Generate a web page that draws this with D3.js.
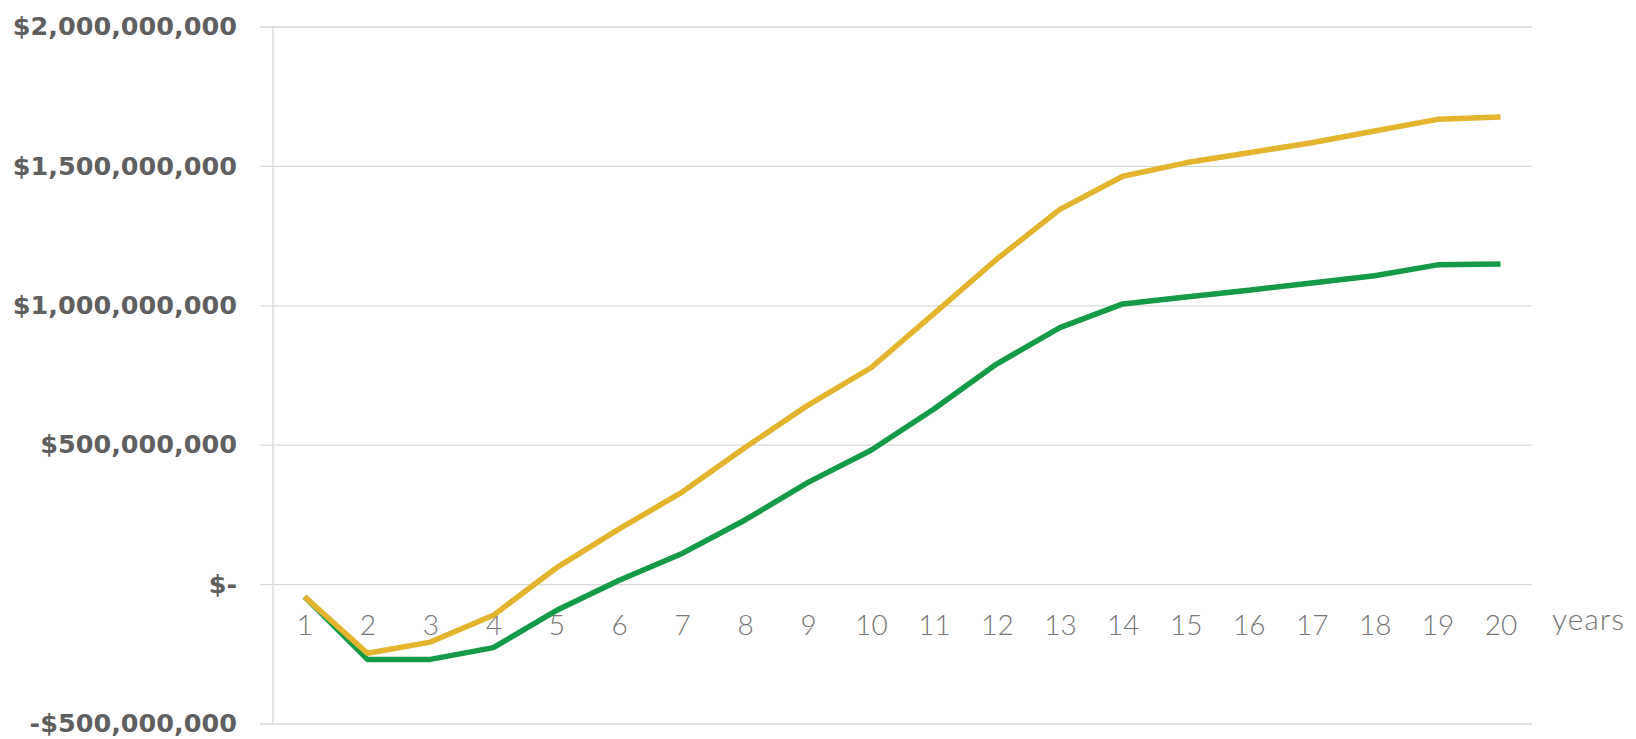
<!DOCTYPE html>
<html>
<head>
<meta charset="utf-8">
<script src="https://cdn.jsdelivr.net/npm/d3@7"></script>
<style>
  html, body { margin: 0; padding: 0; background: #ffffff; }
  svg { display: block; }
  .ylab text { font-family: "DejaVu Sans", sans-serif; font-weight: bold; font-size: 25.5px; fill: #5f5f5f; }
  .xlab text { font-family: "Lato", "Open Sans", sans-serif; font-weight: 300; font-size: 28px; fill: #767676; }
  .unit { font-family: "Lato", "Open Sans", sans-serif; font-weight: 300; font-size: 30px; letter-spacing: 1px; fill: #767676; }
</style>
</head>
<body>
<svg id="chart" width="1636" height="739"></svg>
<script>
// Years on the horizontal axis
const years = d3.range(1, 21);

// Cumulative value by year, in millions of dollars
const upperSeries = [-45, -248, -208, -112, 58, 198, 330, 490, 642, 776,
                     970, 1166, 1344, 1463, 1511, 1547, 1583, 1625, 1667, 1675];
const lowerSeries = [-45, -270, -270, -228, -95, 14, 110, 230, 365, 480,
                     628, 790, 920, 1005, 1030, 1054, 1080, 1106, 1145, 1148];

// Gridline / tick values on the vertical axis (dollars)
const yTicks = [-500000000, 0, 500000000, 1000000000, 1500000000, 2000000000];

const svg = d3.select("#chart");
const plotLeft = 273, plotRight = 1532, plotTop = 26.5, plotBottom = 723.5;

const x = d3.scalePoint().domain(years).range([plotLeft, plotRight]).padding(0.5);
const y = d3.scaleLinear().domain([-500000000, 2000000000]).range([plotBottom, plotTop]);

const money = v => v === 0 ? "$-" : (v < 0 ? "-" : "") + "$" + d3.format(",")(Math.abs(v));

// Horizontal gridlines, running a little past the vertical axis
svg.append("g")
  .attr("transform", `translate(${plotRight},0)`)
  .call(d3.axisLeft(y).tickValues(yTicks).tickSizeInner(plotRight - plotLeft + 13).tickSizeOuter(0).tickFormat(""))
  .call(g => g.select(".domain").remove())
  .call(g => g.selectAll(".tick line").attr("stroke", "#d9d9d9").attr("stroke-width", 1.3));

// Vertical axis line
svg.append("line")
  .attr("x1", plotLeft).attr("x2", plotLeft)
  .attr("y1", y(2000000000)).attr("y2", y(-500000000))
  .attr("stroke", "#d9d9d9").attr("stroke-width", 1.3);

// Dollar labels
svg.append("g")
  .attr("class", "ylab")
  .attr("transform", `translate(${plotLeft},0)`)
  .call(d3.axisLeft(y).tickValues(yTicks).tickSize(0).tickPadding(36).tickFormat(money))
  .call(g => g.select(".domain").remove())
  .call(g => g.selectAll("text").attr("font-family", null).attr("font-size", null).attr("fill", null));

// Year labels sit just under the zero line
svg.append("g")
  .attr("class", "xlab")
  .attr("transform", `translate(0,${y(0)})`)
  .call(d3.axisBottom(x).tickSize(0).tickPadding(31))
  .call(g => g.select(".domain").remove())
  .call(g => g.selectAll("text").attr("font-family", null).attr("font-size", null).attr("fill", null));

svg.append("text")
  .attr("class", "unit")
  .attr("x", 1552).attr("y", 630)
  .text("years");

const line = d3.line()
  .x((d, i) => x(years[i]))
  .y(d => y(d * 1e6));

svg.append("path")
  .datum(lowerSeries)
  .attr("d", line)
  .attr("fill", "none")
  .attr("stroke", "#159a49")
  .attr("stroke-width", 5.5)
  .attr("stroke-linejoin", "round");

svg.append("path")
  .datum(upperSeries)
  .attr("d", line)
  .attr("fill", "none")
  .attr("stroke", "#e3b52f")
  .attr("stroke-width", 5.5)
  .attr("stroke-linejoin", "round");
</script>
</body>
</html>
